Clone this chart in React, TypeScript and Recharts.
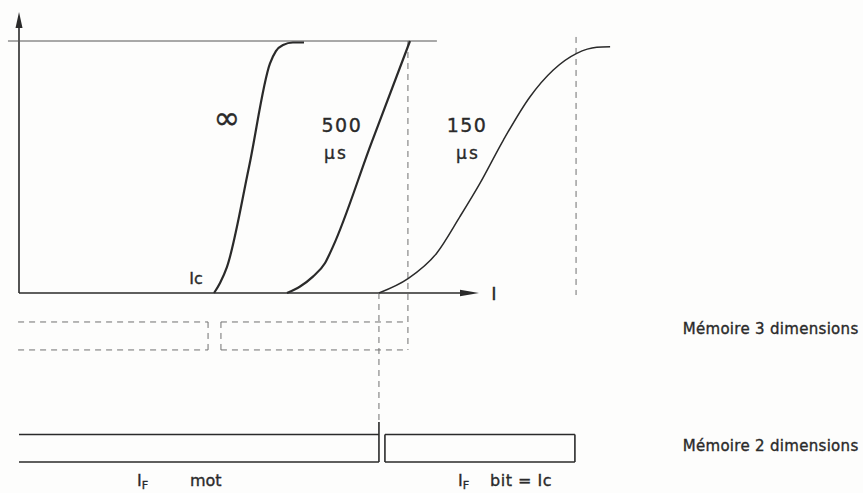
import React from "react";
import { ComposedChart, Line, ReferenceDot, ReferenceLine, XAxis, YAxis } from "recharts";

// courant I (unités arbitraires) / flux rémanent normalisé (1 = saturation)
const curveInfinite = [
  { x: 8.48, v: 0 },
  { x: 8.74, v: 0.04 },
  { x: 9.04, v: 0.103 },
  { x: 10.0, v: 0.5 },
  { x: 10.91, v: 0.91 },
  { x: 11.17, v: 0.96 },
  { x: 11.48, v: 0.984 },
  { x: 11.91, v: 0.994 },
  { x: 12.39, v: 0.994 },
];

const curve500 = [
  { x: 11.65, v: 0 },
  { x: 12.22, v: 0.026 },
  { x: 12.78, v: 0.065 },
  { x: 13.3, v: 0.118 },
  { x: 13.65, v: 0.184 },
  { x: 15.3, v: 0.59 },
  { x: 17.0, v: 1.0 },
];

const curve150 = [
  { x: 15.65, v: 0 },
  { x: 16.93, v: 0.058 },
  { x: 18.16, v: 0.158 },
  { x: 19.17, v: 0.303 },
  { x: 20.04, v: 0.435 },
  { x: 21.06, v: 0.607 },
  { x: 22.22, v: 0.779 },
  { x: 23.23, v: 0.885 },
  { x: 24.25, v: 0.951 },
  { x: 25.12, v: 0.975 },
  { x: 25.7, v: 0.977 },
];

// repères du schéma
const saturationLine = { from: -0.48, to: 18.17, v: 1 };
const axisEnd = { i: 20, v: 1.115 };
const ic500 = 16.91; // fin de la courbe 500 µs
const ic150 = 15.65; // départ de la courbe 150 µs
const sat150 = 24.22;
const row3D = { top: -0.115, bottom: -0.226, left: -0.04, split1: 8.22, split2: 8.78, right: ic500 };
const row2D = { top: -0.5615, bottom: -0.6706, post: -0.512, left: 0, split: ic150, start2: 15.91, right: 24.17 };

const X_DOMAIN = [-19 / 23, 844 / 23];
const Y_DOMAIN = [-200 / 252, 293 / 252];

const INK = "#2a2a2a";
const DASH = "#707070";
const FONT = "'DejaVu Sans', sans-serif";

const Txt = (props: any) => {
  const { cx, cy, text, size = 18, anchor = "middle", spacing = 0, sub } = props;
  return (
    <text
      x={cx}
      y={cy}
      textAnchor={anchor}
      dominantBaseline="central"
      fontFamily={FONT}
      fontSize={size}
      letterSpacing={spacing}
      fill={INK}
      stroke={INK}
      strokeWidth={0.35}
    >
      {text}
      {sub ? (
        <tspan fontSize={size * 0.7} dy={4}>
          {sub}
        </tspan>
      ) : null}
    </text>
  );
};

const label = (x: number, v: number, text: string, opts: any = {}) => (
  <ReferenceDot
    key={text + x + v}
    x={x}
    y={v}
    r={0}
    ifOverflow="visible"
    shape={(p: any) => <Txt cx={p.cx} cy={p.cy} text={text} {...opts} />}
  />
);

const seg = (x1: number, y1: number, x2: number, y2: number, dashed = true, key?: string) => (
  <ReferenceLine
    key={key ?? `${x1}-${y1}-${x2}-${y2}`}
    segment={[
      { x: x1, y: y1 },
      { x: x2, y: y2 },
    ]}
    stroke={dashed ? DASH : INK}
    strokeWidth={dashed ? 1 : 1.6}
    strokeDasharray={dashed ? "6 5" : undefined}
    ifOverflow="visible"
  />
);

export default function App() {
  return (
    <div style={{ position: "absolute", left: 0, top: 0, width: 863, height: 493, background: "#fdfdfc" }}>
      <ComposedChart width={863} height={493} margin={{ top: 0, right: 0, bottom: 0, left: 0 }}>
        <XAxis type="number" dataKey="x" domain={X_DOMAIN} allowDataOverflow hide />
        <YAxis type="number" dataKey="v" domain={Y_DOMAIN} allowDataOverflow hide />

        {/* axes */}
        {seg(0, 0, 0, axisEnd.v - 0.05, false, "yaxis")}
        {seg(0, 0, axisEnd.i - 0.6, 0, false, "xaxis")}
        <ReferenceDot
          x={0}
          y={axisEnd.v}
          r={0}
          ifOverflow="visible"
          shape={(p: any) => (
            <polygon points={`${p.cx},${p.cy} ${p.cx - 3.5},${p.cy + 16} ${p.cx + 3.5},${p.cy + 16}`} fill={INK} />
          )}
        />
        <ReferenceDot
          x={axisEnd.i}
          y={0}
          r={0}
          ifOverflow="visible"
          shape={(p: any) => (
            <polygon points={`${p.cx},${p.cy} ${p.cx - 19},${p.cy - 3.2} ${p.cx - 19},${p.cy + 3.2}`} fill={INK} />
          )}
        />

        {/* saturation */}
        <ReferenceLine
          segment={[
            { x: saturationLine.from, y: saturationLine.v },
            { x: saturationLine.to, y: saturationLine.v },
          ]}
          stroke="#555"
          strokeWidth={1}
          ifOverflow="visible"
        />

        {/* repères verticaux */}
        {seg(ic500, 1, ic500, row3D.bottom)}
        {seg(ic150, 0, ic150, row2D.post)}
        {seg(sat150, 1.016, sat150, -0.008)}

        {/* mémoire 3 dimensions */}
        {seg(row3D.left, row3D.top, row3D.split1, row3D.top)}
        {seg(row3D.left, row3D.bottom, row3D.split1, row3D.bottom)}
        {seg(row3D.split1, row3D.top, row3D.split1, row3D.bottom)}
        {seg(row3D.split2, row3D.top, row3D.right, row3D.top)}
        {seg(row3D.split2, row3D.bottom, row3D.right, row3D.bottom)}
        {seg(row3D.split2, row3D.top, row3D.split2, row3D.bottom)}

        {/* mémoire 2 dimensions */}
        {seg(row2D.left, row2D.top, row2D.split, row2D.top, false)}
        {seg(row2D.left, row2D.bottom, row2D.split, row2D.bottom, false)}
        {seg(row2D.split, row2D.post, row2D.split, row2D.bottom, false)}
        {seg(row2D.start2, row2D.top, row2D.right, row2D.top, false)}
        {seg(row2D.start2, row2D.bottom, row2D.right, row2D.bottom, false)}
        {seg(row2D.start2, row2D.top, row2D.start2, row2D.bottom, false)}
        {seg(row2D.right, row2D.top, row2D.right, row2D.bottom, false)}

        <Line data={curveInfinite} dataKey="v" type="monotone" stroke={INK} strokeWidth={2.2} dot={false} activeDot={false} isAnimationActive={false} />
        <Line data={curve500} dataKey="v" type="monotone" stroke={INK} strokeWidth={2.2} dot={false} activeDot={false} isAnimationActive={false} />
        <Line data={curve150} dataKey="v" type="monotone" stroke={INK} strokeWidth={1.5} dot={false} activeDot={false} isAnimationActive={false} />

        {label(9.04, 0.694, "∞", { size: 32 })}
        {label(14.04, 0.667, "500", { size: 19, spacing: 1.5 })}
        {label(13.78, 0.556, "μs", { size: 17, spacing: 2 })}
        {label(19.48, 0.667, "150", { size: 19, spacing: 1.5 })}
        {label(19.52, 0.556, "μs", { size: 17, spacing: 2 })}
        {label(7.7, 0.056, "Ic", { size: 16 })}
        {label(20.65, 0, "I", { size: 18 })}
        {label(36.5, -0.143, "Mémoire  3 dimensions", { size: 15, anchor: "end", spacing: 0.3 })}
        {label(36.5, -0.607, "Mémoire  2 dimensions", { size: 15, anchor: "end", spacing: 0.3 })}
        {label(5.13, -0.746, "I", { size: 16, anchor: "start", sub: "F" })}
        {label(7.43, -0.746, "mot", { size: 16, anchor: "start" })}
        {label(19.09, -0.746, "I", { size: 16, anchor: "start", sub: "F" })}
        {label(20.48, -0.746, "bit = Ic", { size: 16, anchor: "start", spacing: 0.5 })}
      </ComposedChart>
    </div>
  );
}
